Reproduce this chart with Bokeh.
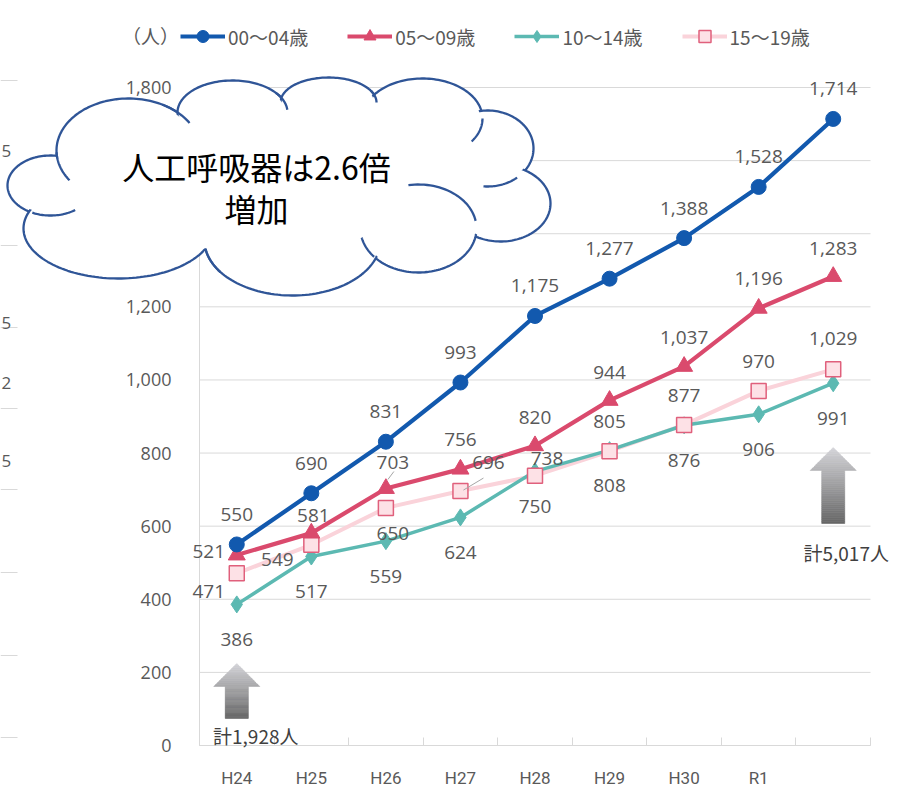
import numpy as np
from bokeh.plotting import figure
from bokeh.models import (Range1d, FixedTicker, NumeralTickFormatter, ColumnDataSource,
                          LabelSet, Label, Legend, LegendItem, PolyAnnotation, BoxAnnotation)
from bokeh.core.properties import value
from bokeh.embed import file_html
from bokeh.resources import INLINE

# ---------------- data ----------------
years = ["H24", "H25", "H26", "H27", "H28", "H29", "H30", "R1"]
series_names = ["00～04歳", "05～09歳", "10～14歳", "15～19歳"]
age_00_04 = [550, 690, 831, 993, 1175, 1277, 1388, 1528, 1714]
age_05_09 = [521, 581, 703, 756, 820, 944, 1037, 1196, 1283]
age_10_14 = [386, 517, 559, 624, 750, 808, 876, 906, 991]
age_15_19 = [471, 549, 650, 696, 738, 805, 877, 970, 1029]
y_ticks = [0, 200, 400, 600, 800, 1000, 1200, 1400, 1600, 1800]
unit_label = "（人）"
cloud_line1 = "人工呼吸器は{r}倍"
cloud_line2 = "増加"
edge_digits = ["5", "5", "2", "5"]

# ---------------- geometry / style ----------------
W, H = 907, 786
PL, PR, PT, PB = 199, 870, 87, 745          # plot-area edges in pixels
N = len(age_00_04)
X0, X1 = -0.5, N - 0.5
YMAX = y_ticks[-1]
PPX = (PR - PL) / (X1 - X0)                  # pixels per x unit
PPY = (PB - PT) / YMAX                       # pixels per y unit

BLUE = "#1259ae"
RED = "#da4a6d"
TEAL = "#5cb9b2"
PINK = "#fad3da"
PINK_FACE = "#fde1e6"
PINK_EDGE = "#e0607c"
TXT = "#595959"
GRID = "#d9d9d9"
CLOUD = "#2f5597"


def px_x(px):
    return X0 + (np.asarray(px, float) - PL) / PPX


def px_y(py):
    return (PB - np.asarray(py, float)) / PPY


def dpx_x(d):
    return np.asarray(d, float) / PPX


def dpx_y(d):
    return np.asarray(d, float) / PPY


p = figure(width=W, height=H,
           x_range=Range1d(float(px_x(0)), float(px_x(W))),
           y_range=Range1d(float(px_y(H)), float(px_y(0))),
           output_backend="svg", toolbar_location=None, tools="",
           min_border=0, min_border_left=0, min_border_right=0, min_border_top=0,
           min_border_bottom=0, outline_line_color=None,
           background_fill_color="white", border_fill_color="white")

p.xgrid.visible = False
p.ygrid.visible = False

# horizontal grid lines limited to the plot area
p.segment(x0=[X0] * len(y_ticks), y0=y_ticks, x1=[X1] * len(y_ticks), y1=y_ticks,
          line_color=GRID, line_width=1)

# y axis (drawn at the left edge of the plot area)
ya = p.yaxis[0]
ya.fixed_location = X0
ya.ticker = FixedTicker(ticks=y_ticks)
ya.formatter = NumeralTickFormatter(format="0,0")
ya.bounds = (0, YMAX)
ya.axis_line_color = GRID
ya.major_tick_line_color = None
ya.minor_tick_line_color = None
ya.major_tick_out = 0
ya.major_tick_in = 0
ya.major_label_standoff = 28
ya.major_label_text_font = "Open Sans"
ya.major_label_text_font_size = "18px"
ya.major_label_text_color = TXT

# x axis (drawn at y = 0)
xa = p.xaxis[0]
xa.fixed_location = 0
xa.bounds = (X0, X1)
xa.ticker = FixedTicker(ticks=list(range(len(years))),
                        minor_ticks=[i - 0.5 for i in range(N + 1)])
xa.major_label_overrides = {i: y for i, y in enumerate(years)}
xa.axis_line_color = GRID
xa.major_tick_line_color = None
xa.major_tick_out = 0
xa.major_tick_in = 0
xa.minor_tick_line_color = GRID
xa.minor_tick_in = 8
xa.minor_tick_out = 0
xa.major_label_standoff = 22
xa.major_label_text_font = "Roboto"
xa.major_label_text_font_size = "17px"
xa.major_label_text_color = TXT

xs = list(range(N))


# ---------------- arrows (gradient) ----------------
def arrow_bands(xc, tip_py, base_py, bot_py, hw_px, sw_px, n_head=12, n_shaft=28,
                top_rgb=(214, 214, 218), bot_rgb=(102, 102, 102)):
    bx, by, cols = [], [], []
    total = bot_py - tip_py

    def col(py):
        f = (py - tip_py) / total
        r = [int(round(a + (b - a) * f)) for a, b in zip(top_rgb, bot_rgb)]
        return "#%02x%02x%02x" % tuple(r)

    e = np.linspace(tip_py, base_py, n_head + 1)
    for a, b in zip(e[:-1], e[1:]):
        wa = hw_px * (a - tip_py) / (base_py - tip_py)
        wb = hw_px * (b - tip_py) / (base_py - tip_py)
        bx.append(list(xc + dpx_x([-wa, wa, wb, -wb])))
        by.append(list(px_y([a, a, b, b])))
        cols.append(col((a + b) / 2))
    e = np.linspace(base_py, bot_py, n_shaft + 1)
    for a, b in zip(e[:-1], e[1:]):
        bx.append(list(xc + dpx_x([-sw_px, sw_px, sw_px, -sw_px])))
        by.append(list(px_y([a, a, b, b])))
        cols.append(col((a + b) / 2))
    return bx, by, cols


for xc, tip, base, bot in [(0, 663, 686, 718), (N - 1, 447, 470, 523)]:
    bx, by, cols = arrow_bands(xc, tip, base, bot, 23, 11.5)
    p.patches(bx, by, fill_color=cols, line_color=cols, line_width=0.6)

# ---------------- lines & markers ----------------
r_pink_l = p.line(xs, age_15_19, line_color=PINK, line_width=4)
r_teal_l = p.line(xs, age_10_14, line_color=TEAL, line_width=3.5)
r_red_l = p.line(xs, age_05_09, line_color=RED, line_width=4.2)
r_blue_l = p.line(xs, age_00_04, line_color=BLUE, line_width=4.2)

r_teal_m = p.scatter(xs, age_10_14, marker="diamond", size=17, fill_color=TEAL, line_color=TEAL)
r_pink_m = p.scatter(xs, age_15_19, marker="square", size=15, fill_color=PINK_FACE,
                     line_color=PINK_EDGE, line_width=1.5)
r_red_m = p.scatter(xs, age_05_09, marker="triangle", size=17, fill_color=RED, line_color=RED)
r_blue_m = p.scatter(xs, age_00_04, marker="circle", size=15, fill_color=BLUE, line_color=BLUE)

# leader lines for two labels
lead_x0 = [xs[2] + dpx_x(2), xs[3] + dpx_x(3)]
lead_y0 = [age_05_09[2] + dpx_y(9), age_15_19[3] + dpx_y(1)]
lead_x1 = [xs[2] + dpx_x(8), xs[3] + dpx_x(23)]
lead_y1 = [age_05_09[2] + dpx_y(17), age_15_19[3] + dpx_y(13)]
p.segment(lead_x0, lead_y0, lead_x1, lead_y1, line_color="#a6a6a6", line_width=1)

# ---------------- data labels ----------------
offs_00_04 = [(0, 30)] * N
offs_05_09 = [(-28, 4), (2, 18), (7, 26), (0, 30), (0, 28), (0, 28), (0, 29), (0, 30), (0, 28)]
offs_10_14 = [(0, -35)] * N
offs_15_19 = [(-28, -18), (-34, -15), (7, -26), (28, 29), (12, 17), (0, 30), (0, 29), (0, 29), (0, 31)]


def add_labels(vals, offs):
    src = ColumnDataSource(dict(x=xs, y=vals, t=[f"{v:,}" for v in vals],
                                dx=[o[0] for o in offs], dy=[o[1] for o in offs]))
    p.add_layout(LabelSet(x="x", y="y", text="t", x_offset="dx", y_offset="dy", source=src,
                          text_align="center", text_baseline="middle",
                          text_font=value("Open Sans"), text_font_size=value("19px"),
                          text_color=TXT))


add_labels(age_00_04, offs_00_04)
add_labels(age_05_09, offs_05_09)
add_labels(age_10_14, offs_10_14)
add_labels(age_15_19, offs_15_19)

# totals under arrows
tot_first = sum(s[0] for s in (age_00_04, age_05_09, age_10_14, age_15_19))
tot_last = sum(s[-1] for s in (age_00_04, age_05_09, age_10_14, age_15_19))
p.add_layout(Label(x=0, y=float(px_y(735)), x_offset=19, text=f"計{tot_first:,}人",
                   text_align="center", text_baseline="middle", text_font="Noto Sans CJK JP",
                   text_font_size="19px", text_color="#404040"))
p.add_layout(Label(x=N - 1, y=float(px_y(552)), x_offset=13, text=f"計{tot_last:,}人",
                   text_align="center", text_baseline="middle", text_font="Noto Sans CJK JP",
                   text_font_size="19px", text_color="#404040"))

# ---------------- legend ----------------
legend = Legend(items=[
    LegendItem(label=series_names[0], renderers=[r_blue_l, r_blue_m]),
    LegendItem(label=series_names[1], renderers=[r_red_l, r_red_m]),
    LegendItem(label=series_names[2], renderers=[r_teal_l, r_teal_m]),
    LegendItem(label=series_names[3], renderers=[r_pink_l, r_pink_m]),
], orientation="horizontal", location=(180, H - 51))
legend.glyph_width = 45
legend.glyph_height = 30
legend.label_standoff = 3
legend.spacing = 39
legend.padding = 0
legend.margin = 0
legend.border_line_alpha = 0
legend.background_fill_alpha = 0
legend.label_text_font = "Noto Sans CJK JP"
legend.label_text_font_size = "19px"
legend.label_text_color = TXT
p.add_layout(legend)

p.add_layout(Label(x=float(px_x(150)), y=float(px_y(35)), text=unit_label, text_align="center",
                   text_baseline="middle", text_font="Noto Sans CJK JP",
                   text_font_size="19px", text_color=TXT))

# ---------------- left-edge fragments of neighbouring chart ----------------
for py in [80, 245, 327, 408, 489, 572, 655, 737]:
    p.add_layout(BoxAnnotation(left=float(px_x(0)), right=float(px_x(17)),
                               top=float(px_y(py - 0.6)), bottom=float(px_y(py + 0.6)),
                               fill_color=GRID, fill_alpha=1, line_color=None))
for d, py in zip(edge_digits, [150, 322, 382, 460]):
    p.add_layout(Label(x=float(px_x(1)), y=float(px_y(py)), text=d, text_align="left",
                       text_baseline="middle", text_font="Open Sans",
                       text_font_size="17px", text_color=TXT))

# ---------------- cloud callout ----------------
lobes = [(50, 185, 43, 30), (128, 150, 72, 52), (232, 112, 55, 32), (328, 102, 48, 25),
         (422, 118, 60, 40), (487, 148, 46, 38), (500, 203, 50, 38), (418, 228, 58, 44),
         (292, 240, 88, 55), (118, 228, 95, 50)]
core = (285, 182, 205, 72)
t = np.linspace(0, 2 * np.pi, 160)


def ell(cx, cy, rx, ry, tt):
    return list(px_x(cx + rx * np.cos(tt))), list(px_y(cy + ry * np.sin(tt)))


for cx, cy, rx, ry in lobes:
    ex, ey = ell(cx, cy, rx, ry, t)
    p.add_layout(PolyAnnotation(xs=ex, ys=ey, fill_color="white", fill_alpha=1,
                                line_color=CLOUD, line_alpha=1, line_width=2.3))
for cx, cy, rx, ry in lobes:
    ex, ey = ell(cx, cy, rx - 2.5, ry - 2.5, t)
    p.add_layout(PolyAnnotation(xs=ex, ys=ey, fill_color="white", fill_alpha=1,
                                line_color=None))
ex, ey = ell(*core, t)
p.add_layout(PolyAnnotation(xs=ex, ys=ey, fill_color="white", fill_alpha=1, line_color=None))

curls = [(0, 55, 115), (1, 145, 178), (1, -62, -32), (2, -38, -5), (3, -28, 0),
         (4, 0, 35), (5, 50, 95), (7, -100, -10), (7, 140, 168), (8, 145, 172)]
for k, a0, a1 in curls:
    cx, cy, rx, ry = lobes[k]
    tt = np.radians(np.linspace(a0, a1, 30))
    ex, ey = ell(cx, cy, rx, ry, tt)
    p.add_layout(PolyAnnotation(xs=ex + ex[::-1], ys=ey + ey[::-1], fill_alpha=0,
                                line_color=CLOUD, line_alpha=1, line_width=2.3))

ratio = tot_last / tot_first
p.add_layout(Label(x=float(px_x(256)), y=float(px_y(165)), text=cloud_line1.format(r=f"{ratio:.1f}"),
                   text_align="center", text_baseline="middle", text_font="Noto Sans CJK JP",
                   text_font_size="32px", text_color="#000000"))
p.add_layout(Label(x=float(px_x(256)), y=float(px_y(207)), text=cloud_line2,
                   text_align="center", text_baseline="middle", text_font="Noto Sans CJK JP",
                   text_font_size="32px", text_color="#000000"))

open("out.html", "w").write(file_html(p, INLINE))
